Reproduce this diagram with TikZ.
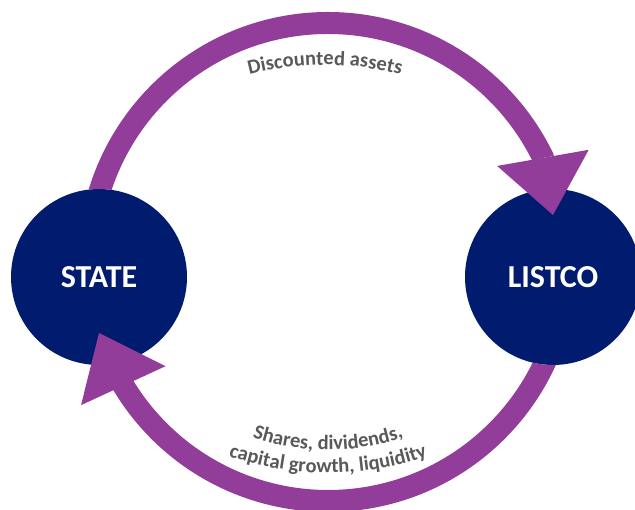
\documentclass[tikz,border=0pt]{standalone}
\usepackage{fontspec}
\setmainfont{Carlito}
\usetikzlibrary{arrows.meta,decorations.text}

\definecolor{flowpurple}{RGB}{147,61,155}
\definecolor{hubnavy}{RGB}{1,27,110}
\definecolor{labelgray}{RGB}{89,89,89}

\newcommand\hubfont{\fontsize{32}{38}\selectfont\bfseries}
\newcommand\flowfont{\fontsize{20.5}{24}\selectfont\bfseries\color{labelgray}}

\begin{document}
\begin{tikzpicture}[x=1pt,y=1pt,
  hub/.style={circle, fill=hubnavy, minimum size=176pt, inner sep=0pt,
    text=white, font=\hubfont},
  flow/.style={draw=flowpurple, line width=22pt,
    -{Triangle[length=58pt,width=93pt,line width=0pt]}},
  flowlabel/.style={decorate, decoration={text along path, text align=center,
    text={|\flowfont|#1}}}]

  \useasboundingbox (0,0) rectangle (635,510);
  \clip (0,0) rectangle (635,510);

  % the two parties
  \node[hub] (state) at (99,233) {STATE};
  \node[hub] (listco) at (553,233) {LISTCO};

  % upper flow: leaves from behind STATE, lands on LISTCO
  \begin{scope}
    \clip (-5,-5) -- (-5,515) -- (640,515) -- (640,-5) -- cycle
      (state.center) circle[radius=88];
    \draw[flow] ([shift={(-10,15)}]state.center)
      arc[start angle=180, end angle=26, radius=239]
      -- ([yshift=62]listco.center);
  \end{scope}

  % lower flow: leaves from behind LISTCO, lands on STATE
  \begin{scope}
    \clip (-5,-5) -- (-5,515) -- (640,515) -- (640,-5) -- cycle
      (listco.center) circle[radius=88];
    \draw[flow] ([shift={(14,15)}]listco.center)
      arc[start angle=0, end angle=-149.3, radius=239]
      -- ([yshift=-56]state.center);
  \end{scope}

  % flow labels
  \path[flowlabel={Discounted assets}]
    ([shift={(120:300)}]325,145) arc[start angle=120, end angle=60, radius=300];
  \path[flowlabel={Shares, dividends,}]
    ([shift={(235:230)}]328,290) arc[start angle=235, end angle=305, radius=230];
  \path[flowlabel={capital growth, liquidity}]
    ([shift={(240:300)}]328,337) arc[start angle=240, end angle=300, radius=300];
\end{tikzpicture}
\end{document}
